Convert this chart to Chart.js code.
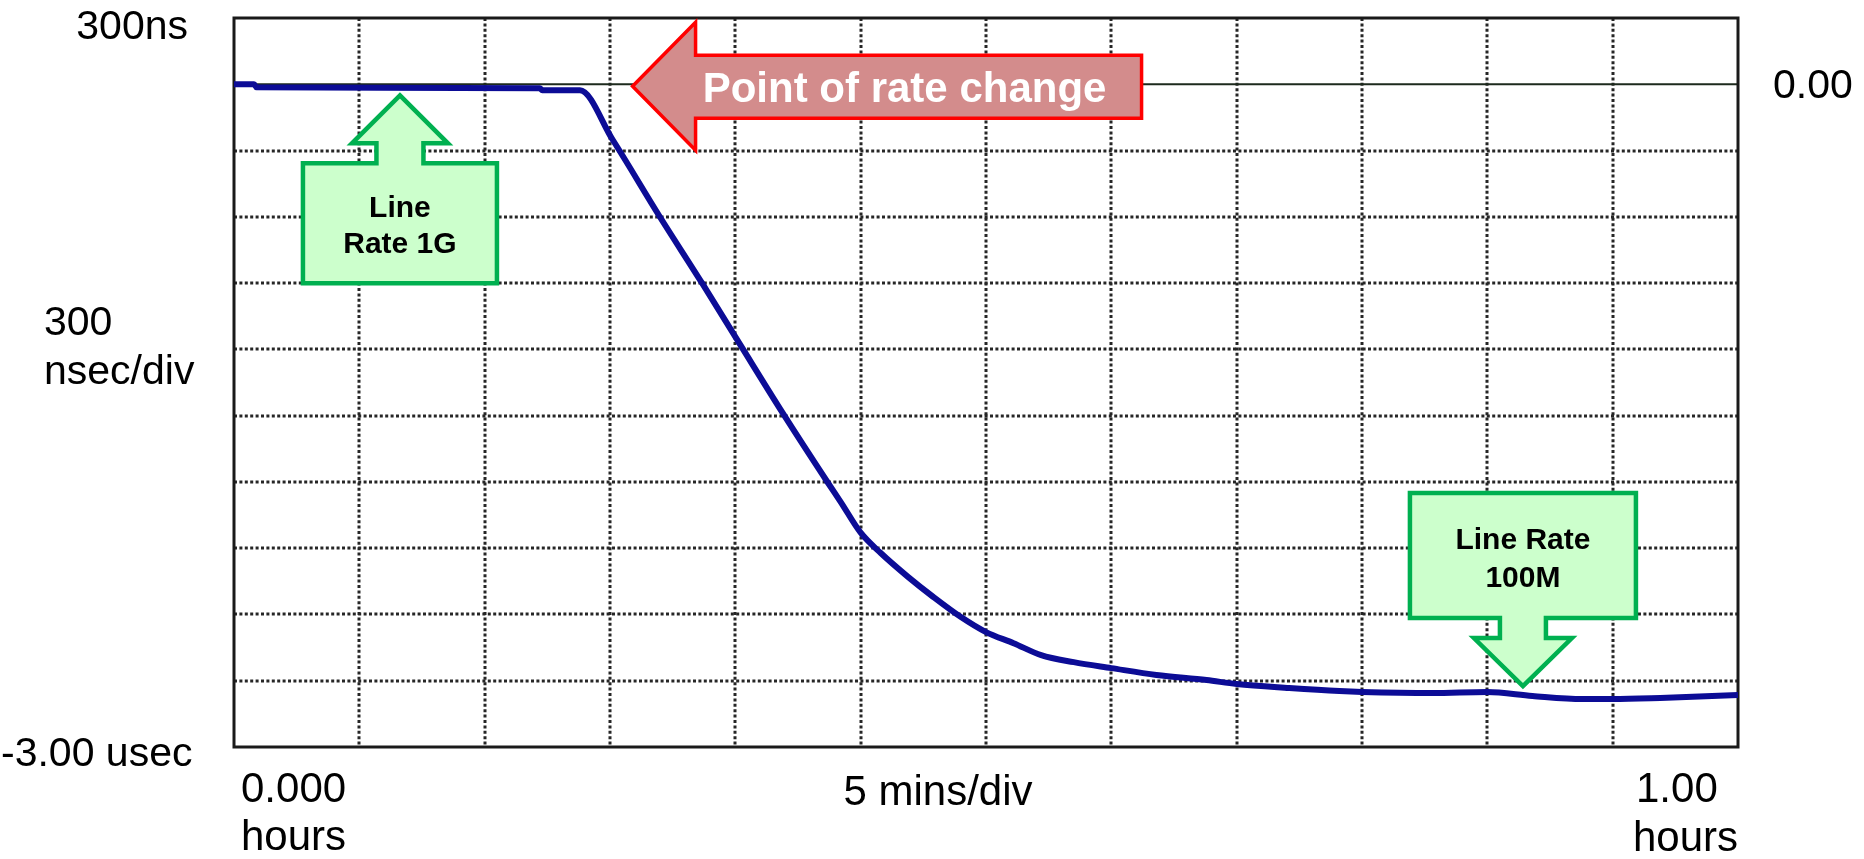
<!DOCTYPE html>
<html>
<head>
<meta charset="utf-8">
<script src="https://cdn.jsdelivr.net/npm/chart.js@4/dist/chart.umd.min.js"></script>
<style>
  html, body { margin: 0; padding: 0; background: #fff; }
  #wrap { width: 1864px; height: 859px; }
</style>
</head>
<body>
<div id="wrap"><canvas id="chart" width="1864" height="859"></canvas></div>
<script>
// ---- data (time in minutes, offset in ns) ----
const minutes = [0, 0.8, 0.9, 5.8, 12.2, 12.3, 13.8, 15.1, 17.0, 18.7, 20.2, 21.9, 23.7, 24.2,
  25.0, 25.8, 26.9, 27.9, 29.0, 30.0, 31.1, 32.2, 33.5, 35.0, 36.8, 38.8, 40.0, 42.1, 44.1,
  45.0, 47.8, 50.0, 51.8, 53.8, 55.0, 56.9, 60];
const offsetNs = [0, 0, -14, -16, -18, -27, -27, -250, -602, -905, -1180, -1490, -1805, -1890,
  -2030, -2122, -2231, -2321, -2412, -2480, -2530, -2584, -2616, -2643, -2674, -2697, -2715, -2733, -2747,
  -2751, -2756, -2751, -2769, -2783, -2783, -2778, -2765];

// axis range / divisions
const xRange = [0, 60];   // minutes, 5 min/div
const xStep = 5;
const yRange = [-3000, 300]; // ns, 300 ns/div
const yStep = 300;

// texts
const yTopLabel = "300ns";
const yBottomLabel = "-3.00 usec";
const yDivLabel = ["300", "nsec/div"];
const zeroLabel = "0.00";
const xStartLabel = ["0.000", "hours"];
const xEndLabel = ["1.00", "hours"];
const xDivLabel = "5 mins/div";

// callouts: anchor (tip) in data coords
const rateChangeText = "Point of rate change";
const rateChangeAt = [15.9, -9];
const lineRate1GText = ["Line", "Rate 1G"];
const lineRate1GAt = [6.62, -50];
const lineRate100MText = ["Line Rate", "100M"];
const lineRate100MAt = [51.42, -2724];

const FONT = '"Liberation Sans", Arial, Helvetica, sans-serif';

// =======================
// grid, border and zero line
// =======================
const gridPlugin = {
  id: "scopeGrid",
  beforeDatasetsDraw(chart) {
    const { ctx, chartArea: a, scales } = chart;
    const xs = scales.x, ys = scales.y;
    ctx.save();
    ctx.strokeStyle = "#262626";
    ctx.lineWidth = 3;
    ctx.setLineDash([3, 2.4]);
    for (let v = xRange[0] + xStep; v < xRange[1]; v += xStep) {
      const px = Math.round(xs.getPixelForValue(v));
      ctx.beginPath();
      ctx.moveTo(px, a.top);
      ctx.lineTo(px, a.bottom);
      ctx.stroke();
    }
    for (let v = yRange[0] + yStep; v < yRange[1]; v += yStep) {
      if (v === 0) continue;
      const py = Math.round(ys.getPixelForValue(v));
      ctx.beginPath();
      ctx.moveTo(a.left, py);
      ctx.lineTo(a.right, py);
      ctx.stroke();
    }
    // zero reference line
    ctx.setLineDash([]);
    ctx.strokeStyle = "#1d2a1d";
    ctx.lineWidth = 1.8;
    const y0 = ys.getPixelForValue(0);
    ctx.beginPath();
    ctx.moveTo(a.left, y0);
    ctx.lineTo(a.right, y0);
    ctx.stroke();
    // frame
    ctx.strokeStyle = "#1a1a1a";
    ctx.lineWidth = 3;
    ctx.strokeRect(a.left, a.top, a.right - a.left, a.bottom - a.top);
    ctx.restore();
  },
};

// =======================
// callouts and axis texts
// =======================
function polygon(ctx, pts, fill, stroke, width) {
  ctx.beginPath();
  pts.forEach(([x, y], i) => (i ? ctx.lineTo(x, y) : ctx.moveTo(x, y)));
  ctx.closePath();
  ctx.fillStyle = fill;
  ctx.fill();
  ctx.lineJoin = "miter";
  ctx.strokeStyle = stroke;
  ctx.lineWidth = width;
  ctx.stroke();
}

const calloutPlugin = {
  id: "callouts",
  afterDatasetsDraw(chart) {
    const { ctx, scales } = chart;
    const xs = scales.x, ys = scales.y;
    ctx.save();

    // red arrow pointing left
    let tx = xs.getPixelForValue(rateChangeAt[0]);
    let ty = ys.getPixelForValue(rateChangeAt[1]);
    polygon(ctx, [
      [tx, ty], [tx + 63, ty - 64], [tx + 63, ty - 31], [tx + 509, ty - 31],
      [tx + 509, ty + 32], [tx + 63, ty + 32], [tx + 63, ty + 64],
    ], "#d38c8c", "#ff0000", 3.5);
    ctx.fillStyle = "#ffffff";
    ctx.font = "bold 42px " + FONT;
    ctx.textAlign = "center";
    ctx.textBaseline = "alphabetic";
    ctx.fillText(rateChangeText, tx + 272, ty + 16);

    // green up arrow (1G)
    tx = xs.getPixelForValue(lineRate1GAt[0]);
    ty = ys.getPixelForValue(lineRate1GAt[1]);
    polygon(ctx, [
      [tx, ty], [tx + 48, ty + 48], [tx + 23.5, ty + 48], [tx + 23.5, ty + 68],
      [tx + 97, ty + 68], [tx + 97, ty + 188], [tx - 97, ty + 188], [tx - 97, ty + 68],
      [tx - 23.5, ty + 68], [tx - 23.5, ty + 48], [tx - 48, ty + 48],
    ], "#ccffcc", "#00b050", 4.5);
    ctx.fillStyle = "#000";
    ctx.font = "bold 30px " + FONT;
    ctx.fillText(lineRate1GText[0], tx, ty + 122);
    ctx.fillText(lineRate1GText[1], tx, ty + 158);

    // green down arrow (100M)
    tx = xs.getPixelForValue(lineRate100MAt[0]);
    ty = ys.getPixelForValue(lineRate100MAt[1]);
    polygon(ctx, [
      [tx, ty], [tx + 49, ty - 48], [tx + 23, ty - 48], [tx + 23, ty - 68],
      [tx + 113, ty - 68], [tx + 113, ty - 193], [tx - 113, ty - 193], [tx - 113, ty - 68],
      [tx - 23, ty - 68], [tx - 23, ty - 48], [tx - 49, ty - 48],
    ], "#ccffcc", "#00b050", 4.5);
    ctx.fillStyle = "#000";
    ctx.font = "bold 30px " + FONT;
    ctx.fillText(lineRate100MText[0], tx, ty - 137);
    ctx.fillText(lineRate100MText[1], tx, ty - 99);

    ctx.restore();
  },
  afterDraw(chart) {
    const { ctx, chartArea: a, scales } = chart;
    const ys = scales.y;
    ctx.save();
    ctx.fillStyle = "#000";
    ctx.font = "41px " + FONT;
    ctx.textBaseline = "alphabetic";

    const yTop = ys.getPixelForValue(yRange[1]);
    const yBot = ys.getPixelForValue(yRange[0]);
    const y0 = ys.getPixelForValue(0);

    ctx.textAlign = "right";
    ctx.fillText(yTopLabel, a.left - 46, yTop + 21);
    ctx.textAlign = "left";
    ctx.fillText(yBottomLabel, 1, yBot + 19);
    ctx.fillText(yDivLabel[0], 44, 335);
    ctx.fillText(yDivLabel[1], 44, 384);
    ctx.fillText(zeroLabel, a.right + 35, y0 + 14);

    ctx.font = "42px " + FONT;
    ctx.fillText(xStartLabel[0], a.left + 7, a.bottom + 55);
    ctx.fillText(xStartLabel[1], a.left + 7, a.bottom + 103);
    ctx.fillText(xEndLabel[0], a.right - 102, a.bottom + 55);
    ctx.textAlign = "right";
    ctx.fillText(xEndLabel[1], a.right, a.bottom + 104);
    ctx.textAlign = "center";
    ctx.fillText(xDivLabel, 938, a.bottom + 58);
    ctx.restore();
  },
};

const ctx = document.getElementById("chart").getContext("2d");
new Chart(ctx, {
  type: "line",
  data: {
    datasets: [
      {
        label: "Offset",
        data: minutes.map((m, i) => ({ x: m, y: offsetNs[i] })),
        borderColor: "#0c0c96",
        borderWidth: 6,
        pointRadius: 0,
        cubicInterpolationMode: "monotone",
        fill: false,
      },
    ],
  },
  options: {
    responsive: false,
    animation: false,
    layout: { padding: { left: 234, right: 126, top: 18, bottom: 112 } },
    plugins: { legend: { display: false }, tooltip: { enabled: false } },
    scales: {
      x: { type: "linear", min: xRange[0], max: xRange[1], display: false },
      y: { type: "linear", min: yRange[0], max: yRange[1], display: false },
    },
  },
  plugins: [gridPlugin, calloutPlugin],
});
</script>
</body>
</html>
